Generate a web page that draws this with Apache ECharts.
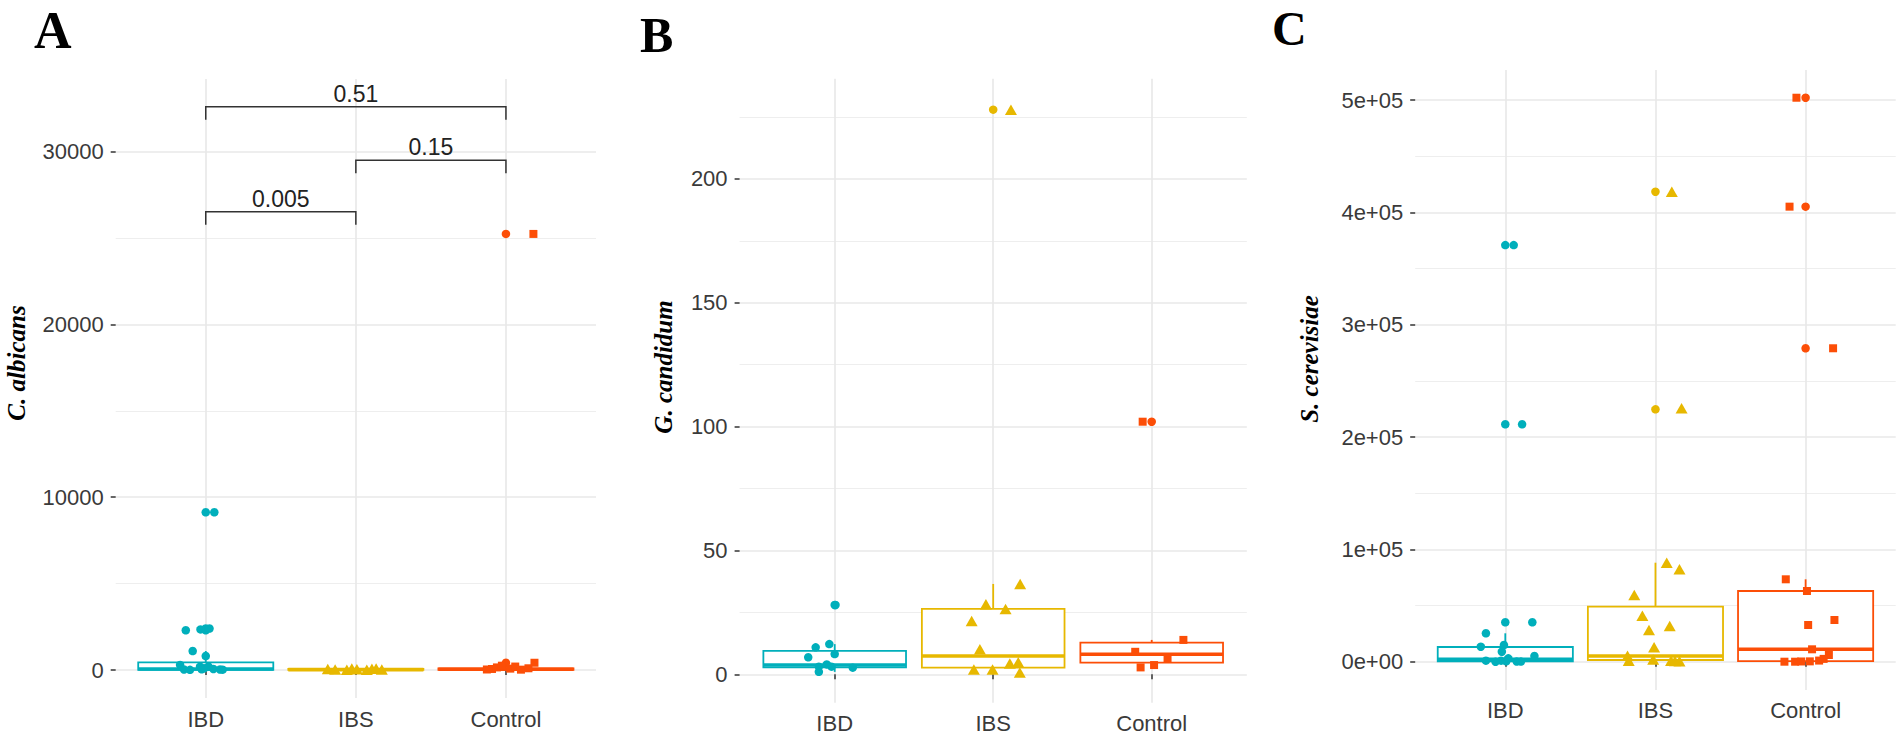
<!DOCTYPE html>
<html><head><meta charset="utf-8">
<script src="https://cdn.jsdelivr.net/npm/echarts@6/dist/echarts.min.js"></script>
<style>html,body{margin:0;padding:0;background:#fff}#chart{width:1902px;height:738px}</style>
</head><body><div id="chart"></div>
<script>
// ---------- categories / styles of groups ----------
const categories = ['IBD', 'IBS', 'Control'];
const groupColors = ['#00AFBB', '#E7B800', '#FC4E07'];
const groupSymbols = ['circle', 'triangle', 'rect'];
const panelLetters = ['A', 'B', 'C'];
const panelTitles = ['C. albicans', 'G. candidum', 'S. cerevisiae'];

// ---------- tick labels ----------
const yTicksA = [0, 10000, 20000, 30000];
const yTickLabelsA = ['0', '10000', '20000', '30000'];
const yMinorA = [5000, 15000, 25000];
const yTicksB = [0, 50, 100, 150, 200];
const yTickLabelsB = ['0', '50', '100', '150', '200'];
const yMinorB = [25, 75, 125, 175, 225];
const yTicksC = [0, 100000, 200000, 300000, 400000, 500000];
const yTickLabelsC = ['0e+00', '1e+05', '2e+05', '3e+05', '4e+05', '5e+05'];
const yMinorC = [50000, 150000, 250000, 350000, 450000];

// ---------- panel A : C. albicans ----------
// box stats per group: [min, Q1, median, Q3, max]
const boxA = [[0, 10, 60, 445, 1100], [0, 5, 20, 60, 150], [0, 10, 40, 100, 250]];
const outliersA = [[9130, 2400, 2350, 2300], [], [25240, 420]];
const jitterA_IBD_x = [0.057, 0.025, -0.035, -0.133, -0.087, 0.0, -0.171, -0.145, -0.105, -0.038, -0.027, -0.011, 0.018, 0.051, 0.095, 0.113];
const jitterA_IBD_y = [9130, 2400, 2350, 2300, 1100, 810, 290, 30, 10, 190, 40, 100, 200, 60, 30, 20];
const jitterA_IBS_x = [-0.187, -0.138, -0.06, -0.027, 0.007, 0.073, 0.107, 0.135, 0.173];
const jitterA_IBS_y = [60, 30, 20, 80, 50, 20, 70, 90, 30];
const jitterA_Ctl_x = [-0.127, -0.093, -0.06, -0.027, 0.029, 0.062, 0.1, 0.15, 0.19, 0.183];
const jitterA_Ctl_y = [30, 60, 150, 250, 80, 200, 20, 100, 420, 25240];
// significance brackets (panel A)
const bracketFrom = [1, 2, 1];
const bracketTo = [3, 3, 2];
const bracketY = [32600, 29510, 26520];
const bracketLabels = ['0.51', '0.15', '0.005'];

// ---------- panel B : G. candidum ----------
const boxB = [[1.0, 2.8, 3.75, 9.5, 12.2], [0.7, 2.7, 7.4, 26.4, 36.5], [2.8, 4.7, 8.1, 12.8, 13.9]];
const outliersB = [[28], [228], [102]];
const jitterB_IBD_x = [0.005, -0.12, -0.034, 0.0, -0.167, -0.1, -0.1, -0.05, 0.114, -0.02];
const jitterB_IBD_y = [28, 10.9, 12.2, 8.2, 6.9, 3.1, 1.0, 4.0, 2.7, 3.1];
const jitterB_IBS_x = [0.112, 0.17, -0.046, 0.078, -0.136, -0.084, -0.122, -0.004, 0.105, 0.158, 0.168];
const jitterB_IBS_y = [228, 36.5, 28.3, 26.4, 21.5, 10.1, 2.0, 2.0, 4.4, 4.9, 0.7];
const jitterB_Ctl_x = [-0.057, -0.104, -0.07, 0.015, 0.10, 0.2];
const jitterB_Ctl_y = [102, 9.1, 2.8, 3.75, 6.4, 13.9];

// ---------- panel C : S. cerevisiae ----------
const boxC = [[0, 300, 2100, 13090, 25290], [0, 1500, 5070, 48980, 88160], [0, 600, 11040, 62960, 73370]];
const outliersC = [[371000, 211400, 35080], [418500, 224750], [502200, 405200, 279100]];
const jitterC_IBD_x = [0.056, 0.112, 0.18, -0.129, -0.163, -0.009, -0.023, 0.194, -0.129, -0.065, -0.028, 0.006, 0.076, 0.104, 0.02];
const jitterC_IBD_y = [371000, 211400, 35080, 25290, 13360, 14870, 8900, 5070, 900, 0, 900, 300, 200, 100, 3000];
const jitterC_IBS_x = [0.109, 0.174, 0.075, 0.16, -0.141, -0.087, -0.043, 0.095, -0.009, -0.186, -0.178, -0.015, 0.104, 0.16, 0.13];
const jitterC_IBS_y = [418500, 225600, 88160, 82280, 59400, 40960, 28230, 31790, 12820, 5340, 900, 1900, 900, 300, 600];
const jitterC_Ctl_x = [-0.061, -0.107, 0.183, -0.132, 0.009, 0.017, 0.192, 0.043, 0.155, -0.141, -0.07, 0.028, 0.09, -0.03, 0.12];
const jitterC_Ctl_y = [502200, 405200, 279100, 73370, 62960, 32680, 37130, 11040, 5970, 0, 0, 300, 1000, 200, 2500];

// ---------- layout (positions / styles) ----------
const panels = [
  { grid: { left: 115.7, top: 79, width: 480.3, height: 619.1 }, yMin: -1626, yMax: 34207,
    ticks: yTicksA, labels: yTickLabelsA, minor: yMinorA, box: boxA, outliers: outliersA,
    jx: [jitterA_IBD_x, jitterA_IBS_x, jitterA_Ctl_x], jy: [jitterA_IBD_y, jitterA_IBS_y, jitterA_Ctl_y],
    letter: { x: 34, y: 30, size: 52 }, title: { x: 16.6, y: 363 } },
  { grid: { left: 739.6, top: 78.8, width: 507.2, height: 623.9 }, yMin: -11.45, yMax: 240.45,
    ticks: yTicksB, labels: yTickLabelsB, minor: yMinorB, box: boxB, outliers: outliersB,
    jx: [jitterB_IBD_x, jitterB_IBS_x, jitterB_Ctl_x], jy: [jitterB_IBD_y, jitterB_IBS_y, jitterB_Ctl_y],
    letter: { x: 640, y: 35, size: 50 }, title: { x: 663.8, y: 367 } },
  { grid: { left: 1415.2, top: 70, width: 480.5, height: 619.9 }, yMin: -25111, yMax: 526892,
    ticks: yTicksC, labels: yTickLabelsC, minor: yMinorC, box: boxC, outliers: outliersC,
    jx: [jitterC_IBD_x, jitterC_IBS_x, jitterC_Ctl_x], jy: [jitterC_IBD_y, jitterC_IBS_y, jitterC_Ctl_y],
    letter: { x: 1272, y: 28, size: 48 }, title: { x: 1309.6, y: 359 } }
];

const labelFont = { fontFamily: 'Liberation Sans', fontSize: 22, color: '#3a3a3a' };
const majorGrid = { color: '#e8e8e8', width: 1.6 };
const minorGrid = { color: '#eeeeee', width: 1.1 };
const symbolSizes = [8.5, [12, 10.5], 8];

const grids = [], xAxes = [], yAxes = [], series = [], graphics = [];

panels.forEach((p, i) => {
  grids.push(Object.assign({ outerBoundsMode: 'none', containLabel: false }, p.grid));
  xAxes.push({
    type: 'value', gridIndex: i, min: 0.4, max: 3.6,
    axisLine: { show: false },
    axisTick: { show: true, length: 5, customValues: [1, 2, 3], lineStyle: { color: '#333', width: 1.5 } },
    axisLabel: Object.assign({ customValues: [1, 2, 3], margin: 10, formatter: v => categories[Math.round(v) - 1] }, labelFont),
    splitLine: { show: true, lineStyle: majorGrid }
  });
  const tks = p.ticks, lbs = p.labels;
  yAxes.push({
    type: 'value', gridIndex: i, min: p.yMin, max: p.yMax, position: 'left',
    axisLine: { show: false },
    axisTick: { show: true, length: 5, customValues: tks, lineStyle: { color: '#333', width: 1.5 } },
    axisLabel: Object.assign({ customValues: tks, margin: 12, formatter: v => { const k = tks.indexOf(v); return k >= 0 ? lbs[k] : ''; } }, labelFont),
    splitLine: { show: true, lineStyle: majorGrid }
  });
  yAxes.push({
    type: 'value', gridIndex: i, min: p.yMin, max: p.yMax, position: 'left',
    axisLine: { show: false },
    axisTick: { show: false, customValues: p.minor },
    axisLabel: { show: false, customValues: p.minor },
    splitLine: { show: true, lineStyle: minorGrid }
  });

  // boxes
  series.push({
    type: 'custom', xAxisIndex: i, yAxisIndex: 2 * i, silent: true, z: 2,
    data: p.box.map((b, g) => [g + 1].concat(b)),
    encode: { x: 0, y: [1, 2, 3, 4, 5] },
    renderItem: (params, api) => {
      const x = api.value(0), lo = api.value(1), q1 = api.value(2), md = api.value(3), q3 = api.value(4), hi = api.value(5);
      const col = groupColors[Math.round(x) - 1];
      const hw = 0.45;
      const tl = api.coord([x - hw, q3]), br = api.coord([x + hw, q1]);
      const ml = api.coord([x - hw, md]), mr = api.coord([x + hw, md]);
      const pHi = api.coord([x, hi]), pQ3 = api.coord([x, q3]), pQ1 = api.coord([x, q1]), pLo = api.coord([x, lo]);
      return { type: 'group', children: [
        { type: 'line', shape: { x1: pQ3[0], y1: pQ3[1], x2: pHi[0], y2: pHi[1] }, style: { stroke: col, lineWidth: 1.8 } },
        { type: 'line', shape: { x1: pQ1[0], y1: pQ1[1], x2: pLo[0], y2: pLo[1] }, style: { stroke: col, lineWidth: 1.8 } },
        { type: 'rect', shape: { x: tl[0], y: tl[1], width: br[0] - tl[0], height: br[1] - tl[1] }, style: { fill: '#ffffff', stroke: col, lineWidth: 1.8 } },
        { type: 'line', shape: { x1: ml[0], y1: ml[1], x2: mr[0], y2: mr[1] }, style: { stroke: col, lineWidth: 3.6 } }
      ] };
    }
  });
  // outliers (boxplot circles at category centre)
  p.outliers.forEach((arr, g) => {
    series.push({
      type: 'scatter', xAxisIndex: i, yAxisIndex: 2 * i, silent: true, z: 3,
      symbol: 'circle', symbolSize: 8.5, itemStyle: { color: groupColors[g], opacity: 1 },
      data: arr.map(v => [g + 1, v])
    });
  });
  // jittered points
  p.jx.forEach((xs, g) => {
    series.push({
      type: 'scatter', xAxisIndex: i, yAxisIndex: 2 * i, silent: true, z: 4,
      symbol: groupSymbols[g], symbolSize: symbolSizes[g], itemStyle: { color: groupColors[g], opacity: 1 },
      data: xs.map((dx, k) => [g + 1 + dx, p.jy[g][k]])
    });
  });

  graphics.push({ type: 'text', x: p.letter.x, y: p.letter.y, silent: true,
    style: { text: panelLetters[i], font: 'bold ' + p.letter.size + 'px "Liberation Serif"', fill: '#000', align: 'left', verticalAlign: 'middle' } });
  graphics.push({ type: 'text', x: p.title.x, y: p.title.y, rotation: Math.PI / 2, silent: true,
    style: { text: panelTitles[i], font: 'italic bold 25px "Liberation Serif"', fill: '#000', align: 'center', verticalAlign: 'middle' } });
});

// brackets for panel A
series.push({
  type: 'custom', xAxisIndex: 0, yAxisIndex: 0, silent: true, z: 5,
  data: bracketFrom.map((f, k) => [f, bracketTo[k], bracketY[k], k]),
  encode: { x: [0, 1], y: 2 },
  renderItem: (params, api) => {
    const x1 = api.value(0), x2 = api.value(1), y = api.value(2), k = api.value(3);
    const p1 = api.coord([x1, y]), p2 = api.coord([x2, y]);
    const tip = 13;
    return { type: 'group', children: [
      { type: 'polyline', shape: { points: [[p1[0], p1[1] + tip], [p1[0], p1[1]], [p2[0], p2[1]], [p2[0], p2[1] + tip]] },
        style: { stroke: '#333', lineWidth: 1.5, fill: 'none' } },
      { type: 'text', x: (p1[0] + p2[0]) / 2, y: p1[1] - 1.5,
        style: { text: bracketLabels[k], font: '23px "Liberation Sans"', fill: '#222', align: 'center', verticalAlign: 'bottom' } }
    ] };
  }
});

const chart = echarts.init(document.getElementById('chart'), null, { renderer: 'svg' });
chart.setOption({
  animation: false,
  backgroundColor: '#ffffff',
  grid: grids, xAxis: xAxes, yAxis: yAxes, series: series, graphic: graphics
});
</script></body></html>
